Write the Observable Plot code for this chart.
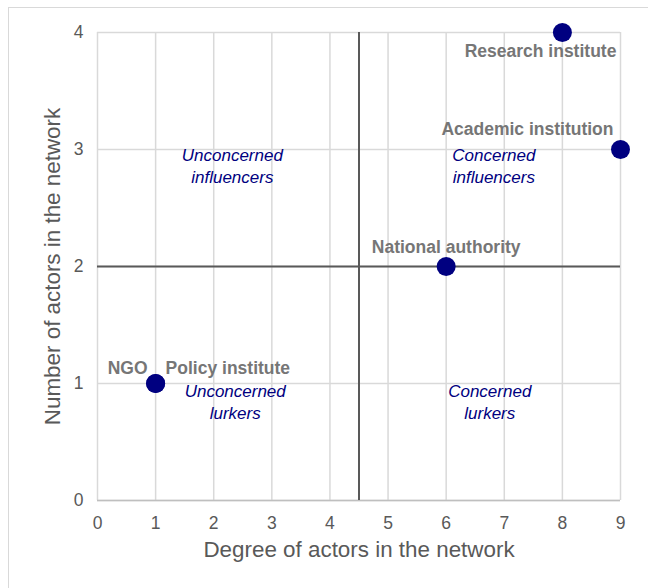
<!DOCTYPE html>
<html><head><meta charset="utf-8">
<script src="https://cdn.jsdelivr.net/npm/d3@7"></script>
<script src="https://cdn.jsdelivr.net/npm/@observablehq/plot@0.6"></script>
<style>
body{margin:0;background:#fff;font-family:"Liberation Sans",Arial,sans-serif;}
#frame{position:absolute;left:8px;top:7px;width:660px;height:600px;border:1px solid #d9d9d9;}
#chart{position:absolute;left:0;top:0;}
</style></head><body>
<div id="frame"></div>
<div id="chart"></div>
<script>
const actors = ["Research institute","Academic institution","National authority","NGO","Policy institute"];
const degree = [8, 9, 6, 1, 1];
const count = [4, 3, 2, 1, 1];
const quadrantNames = ["Unconcerned\ninfluencers","Concerned\ninfluencers","Unconcerned\nlurkers","Concerned\nlurkers"];
const quadrantX = [2.32, 6.82, 2.37, 6.75];
const quadrantY = [2.87, 2.87, 0.85, 0.85];
const xTicks = [0,1,2,3,4,5,6,7,8,9];
const yTicks = [0,1,2,3,4];
const xSplit = 4.5, ySplit = 2;

const pts = actors.map((a,i)=>({actor:a, x:degree[i], y:count[i]}));
const quads = quadrantNames.map((q,i)=>({name:q, x:quadrantX[i], y:quadrantY[i]}));
const labelStyle = {
  "Research institute": {anchor:"end", dx:54, dy:19},
  "Academic institution": {anchor:"end", dx:-7, dy:-20},
  "National authority": {anchor:"middle", dx:0, dy:-19},
  "NGO": {anchor:"end", dx:-8, dy:-15},
  "Policy institute": {anchor:"start", dx:10, dy:-15}
};
const labelMarks = pts.map(p => Plot.text([p], {
  x:"x", y:"y", text:"actor", textAnchor: labelStyle[p.actor].anchor,
  dx: labelStyle[p.actor].dx, dy: labelStyle[p.actor].dy,
  fill:"#767676", fontWeight:"bold", fontSize:17.5
}));

const chart = Plot.plot({
  width:648, height:588,
  marginLeft:97, marginRight:28, marginTop:32, marginBottom:88,
  style:{fontFamily:"'Liberation Sans', Arial, sans-serif", background:"transparent"},
  x:{domain:[0,9], ticks:xTicks, label:null},
  y:{domain:[0,4], ticks:yTicks, label:null},
  marks:[
    Plot.gridX(xTicks, {stroke:"#d9d9d9", strokeOpacity:1, strokeWidth:1.5}),
    Plot.gridY(yTicks, {stroke:"#d9d9d9", strokeOpacity:1, strokeWidth:1.5}),
    Plot.ruleY([0], {stroke:"#bfbfbf", strokeWidth:1.5}),
    Plot.ruleX([xSplit], {y1:0, y2:4, stroke:"#595959", strokeWidth:2}),
    Plot.ruleY([ySplit], {x1:0, x2:9, stroke:"#595959", strokeWidth:2}),
    Plot.axisX(xTicks, {tickSize:0, tickPadding:16, fontSize:17.5, fill:"#595959", label:null, tickFormat:"d"}),
    Plot.axisY(yTicks, {tickSize:0, tickPadding:14, fontSize:17.5, fill:"#595959", label:null, tickFormat:"d"}),
    Plot.text(["Degree of actors in the network"], {frameAnchor:"bottom", dy:56, fontSize:22.4, fill:"#595959", textAnchor:"middle"}),
    Plot.text(["Number of actors in the network"], {frameAnchor:"left", dx:-45, rotate:-90, fontSize:22.4, fill:"#595959", textAnchor:"middle"}),
    Plot.text(quads, {x:"x", y:"y", text:"name", fill:"#000080", fontStyle:"italic", fontSize:17, lineHeight:1.3}),
    Plot.dot(pts, {x:"x", y:"y", r:9.5, fill:"#000080"}),
    ...labelMarks
  ]
});
document.getElementById("chart").appendChild(chart);
</script>
</body></html>
